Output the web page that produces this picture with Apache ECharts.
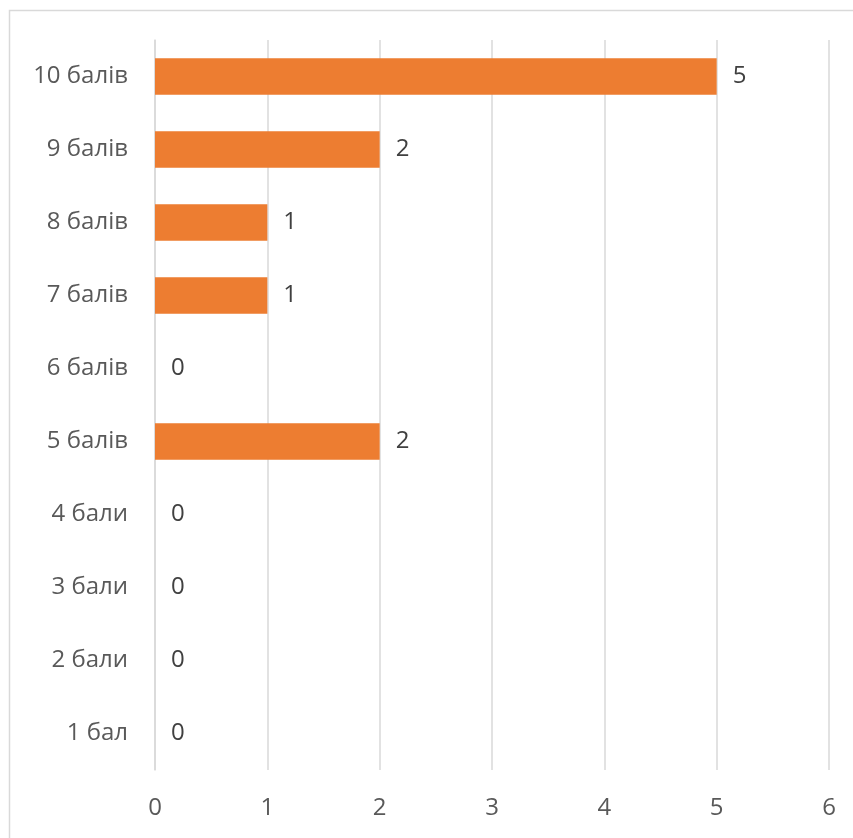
<!DOCTYPE html>
<html><head><meta charset="utf-8">
<script src="https://cdn.jsdelivr.net/npm/echarts@6/dist/echarts.min.js"></script>
<style>html,body{margin:0;padding:0;background:#fff}#c{width:853px;height:838px}</style>
</head><body><div id="c"></div>
<script>
var categories = ['1 бал','2 бали','3 бали','4 бали','5 балів','6 балів','7 балів','8 балів','9 балів','10 балів'];
var values = [0,0,0,0,2,0,1,1,2,5];
var xTicks = [0,1,2,3,4,5,6];
var chart = echarts.init(document.getElementById('c'));
var font = '"Open Sans", "Liberation Sans", sans-serif';
chart.setOption({
  animation: false,
  backgroundColor: '#fff',
  graphic: [{type:'rect', shape:{x:9.5,y:10.5,width:900,height:900}, style:{fill:'none',stroke:'#D9D9D9',lineWidth:1.5}, silent:true}],
  grid: {left:155, right:24, top:40, bottom:68},
  xAxis: {type:'value', min:xTicks[0], max:xTicks[xTicks.length-1], interval:1,
    axisLine:{show:false}, axisTick:{show:false},
    splitLine:{lineStyle:{color:'#D9D9D9', width:1.5}},
    axisLabel:{color:'#595959', fontSize:24, fontFamily:font, margin:26}},
  yAxis: {type:'category', data:categories,
    axisLine:{show:true, lineStyle:{color:'#D9D9D9', width:1.5}}, axisTick:{show:false},
    axisLabel:{color:'#595959', fontSize:24, fontFamily:font, margin:27}},
  series: [{type:'bar', data:values, barCategoryGap:'50%',
    itemStyle:{color:'#ED7D31'},
    label:{show:true, position:'right', distance:16, color:'#404040', fontSize:24, fontFamily:font}}]
});
</script></body></html>
